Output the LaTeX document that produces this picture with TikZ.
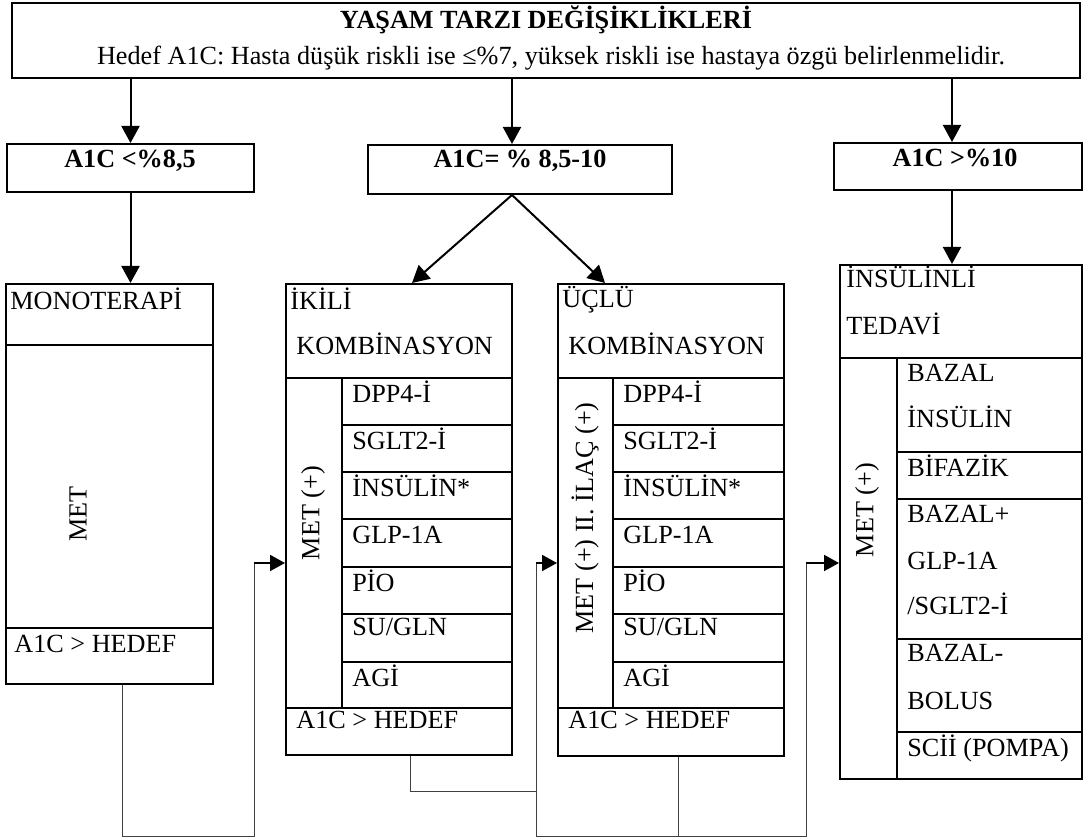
\documentclass[tikz,border=0pt]{standalone}
\usepackage{fontspec}
\setmainfont{Liberation Serif}
\usetikzlibrary{arrows.meta,fit}

\tikzset{
  box/.style={draw, line width=1pt, inner sep=0pt},
  lbl/.style={anchor=base west, inner sep=0pt},
  hd/.style={anchor=base, inner sep=0pt, font=\fontsize{13.1}{15}\selectfont\bfseries},
  vert/.style={rotate=90, inner sep=0pt},
  arr/.style={line width=1pt, -{Triangle[length=8.5pt,width=9pt]}},
  back/.style={line width=0.5pt, black!75},
  backarr/.style={line width=1pt, -{Triangle[length=7.5pt,width=8pt]}},
}

\begin{document}
\begin{tikzpicture}[x=0.5pt, y=-0.5pt, font=\fontsize{13.1}{15}\selectfont]
  \path[use as bounding box, fill=white] (0,0) rectangle (1088,838);

  % top box
  \node[box, fit={(12,3) (1080,78)}] (top) {};
  \node[hd] (title) at (546,29) {YAŞAM TARZI DEĞİŞİKLİKLERİ};
  \node[anchor=base, inner sep=0pt] (goal) at (551,65) {Hedef A1C: Hasta düşük riskli ise ≤\%7, yüksek riskli ise hastaya özgü belirlenmelidir.};

  % A1C levels
  \node[box, fit={(7,144) (254,192)}] (lowa) {};
  \node[hd] (lowt) at (130,168) {A1C <\%8,5};
  \node[box, fit={(368,145) (672,194)}] (mida) {};
  \node[hd] (midt) at (520,168) {A1C= \% 8,5-10};
  \node[box, fit={(834,143) (1082,190)}] (higha) {};
  \node[hd] (hight) at (955,167) {A1C >\%10};

  % monoterapi
  \node[box, fit={(6,284) (213,684)}] (mono) {};
  \draw[line width=1pt] (6,345) -- (213,345) (6,628) -- (213,628);
  \node[lbl] (monot) at (10,310) {MONOTERAPİ};
  \node[vert] (met1) at (78,514) {MET};
  \node[lbl] (monoh) at (14,653) {A1C > HEDEF};

  % ikili and uclu kombinasyon
  \node[box, fit={(286,284) (512,755)}] (ikili) {};
  \node[box, fit={(558,284) (784,756)}] (uclu) {};
  \foreach \l/\m/\r in {286/342/512, 558/613/784} {
    \draw[line width=1pt] (\l,378) -- (\r,378) (\m,378) -- (\m,708) (\l,708) -- (\r,708);
    \foreach \y in {425,472,519,567,614,662}
      \draw[line width=1pt] (\m,\y) -- (\r,\y);
  }
  \node[lbl] (ikt1) at (290,310) {İKİLİ};
  \node[lbl] (ikt2) at (296,355) {KOMBİNASYON};
  \node[lbl] (uct1) at (562,308) {ÜÇLÜ};
  \node[lbl] (uct2) at (568,355) {KOMBİNASYON};
  \foreach \x/\n in {352/ik, 623/uc} {
    \foreach \y/\t in {403/DPP4-İ, 450/SGLT2-İ, 497/İNSÜLİN*, 544/GLP-1A,
                       592/PİO, 636/{SU/GLN}, 687/AGİ}
      \node[lbl] (\n\y) at (\x,\y) {\t};
  }
  \node[vert] (met2) at (313,513) {MET (+)};
  \node[vert] (met3) at (585,518) {MET (+) II. İLAÇ (+)};
  \node[lbl] (ikh) at (296,729) {A1C > HEDEF};
  \node[lbl] (uch) at (568,729) {A1C > HEDEF};

  % insulinli tedavi
  \node[box, fit={(840,265) (1082,779)}] (insul) {};
  \draw[line width=1pt] (840,358) -- (1082,358) (897,358) -- (897,779);
  \foreach \y in {452,499,639,732}
    \draw[line width=1pt] (897,\y) -- (1082,\y);
  \node[lbl] (ins1) at (846,288) {İNSÜLİNLİ};
  \node[lbl] (ins2) at (846,335) {TEDAVİ};
  \node[vert] (met4) at (867,510) {MET (+)};
  \foreach \y/\t in {382/BAZAL, 428/İNSÜLİN, 477/BİFAZİK, 523/BAZAL+, 570/GLP-1A,
                     615/{/SGLT2-İ}, 662/BAZAL-, 710/BOLUS, 757/{SCİİ (POMPA)}}
    \node[lbl] (in\y) at (907,\y) {\t};

  % arrows down
  \coordinate (mx) at ([xshift=-4pt]mida.north);
  \coordinate (ms) at ([xshift=-4pt]mida.south);
  \coordinate (hx) at ([xshift=-3pt]higha.north);
  \draw[arr] (top.south -| lowa.north) -- (lowa.north);
  \draw[arr] (top.south -| mx) -- (mx);
  \draw[arr] (top.south -| hx) -- (hx);
  \draw[arr] (lowa.south) -- (lowa.south |- mono.north);
  \draw[arr] (ms) -- ([xshift=6.5pt]ikili.north);
  \draw[arr] (ms) -- ([xshift=-33pt]uclu.north);
  \draw[arr] (higha.south -| hx) -- (insul.north -| hx);

  % A1C > hedef ise
  \coordinate (f1) at (122,837);
  \coordinate (f2) at (410,792);
  \coordinate (f3) at (678,837);
  \coordinate (fa) at (254,563);
  \coordinate (fb) at (536,563);
  \coordinate (fc) at (806,563);
  \draw[back] (mono.south -| f1) -- (f1) -| (fa);
  \draw[back] (ikili.south -| f2) -- (f2) -- (f2 -| fb);
  \draw[back] (fb) -- (fb |- f1) -- (fc |- f1) -- (fc);
  \draw[back] (uclu.south -| f3) -- (f3);
  \draw[backarr] (fa) -- (fa -| ikili.west);
  \draw[backarr] (fb) -- (fb -| uclu.west);
  \draw[backarr] (fc) -- (fc -| insul.west);
\end{tikzpicture}
\end{document}
